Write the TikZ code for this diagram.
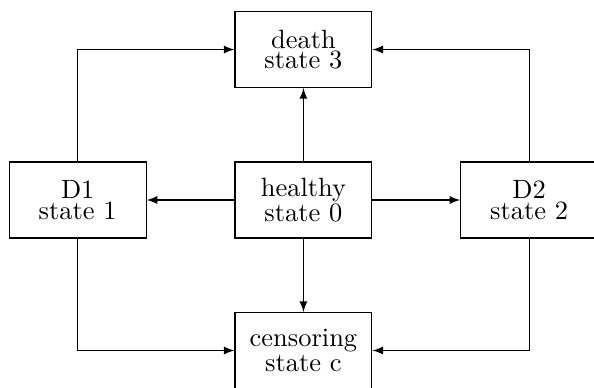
\documentclass[tikz,border=0pt]{standalone}
\usepackage{amsmath,amssymb}
\usepackage{tikz}

\begin{document}
\begin{tikzpicture}[
        state/.style = {draw, rectangle, align=center, font=\fontsize{10pt}{0pt}\selectfont, minimum width=1.82cm, minimum height=1.01cm, inner sep=1pt},
        arr/.style = {-latex}
    ]
        \clip (-4.033,-2.485) rectangle (3.861,2.658);
        \useasboundingbox (-4.033,-2.485) rectangle (3.861,2.658);
        \node[state] (healthy) at (0,0) {healthy\\state 0};
        \node[state] (death) at (0,2) {death\\state 3};
        \node[state] (censor) at (0,-2) {censoring\\state c};
        \node[state] (dOne) at (-3,0) {D1\\state 1};
        \node[state] (dTwo) at (3,0) {D2\\state 2};
        \draw[arr] (healthy) -- (dOne);
        \draw[arr] (healthy) -- (dTwo);
        \draw[arr] (healthy) -- (death);
        \draw[arr] (healthy) -- (censor);
        \draw[arr] (dOne.north) |- (death.west);
        \draw[arr] (dTwo.north) |- (death.east);
        \draw[arr] (dOne.south) |- (censor.west);
        \draw[arr] (dTwo.south) |- (censor.east);
    \end{tikzpicture}
\end{document}
